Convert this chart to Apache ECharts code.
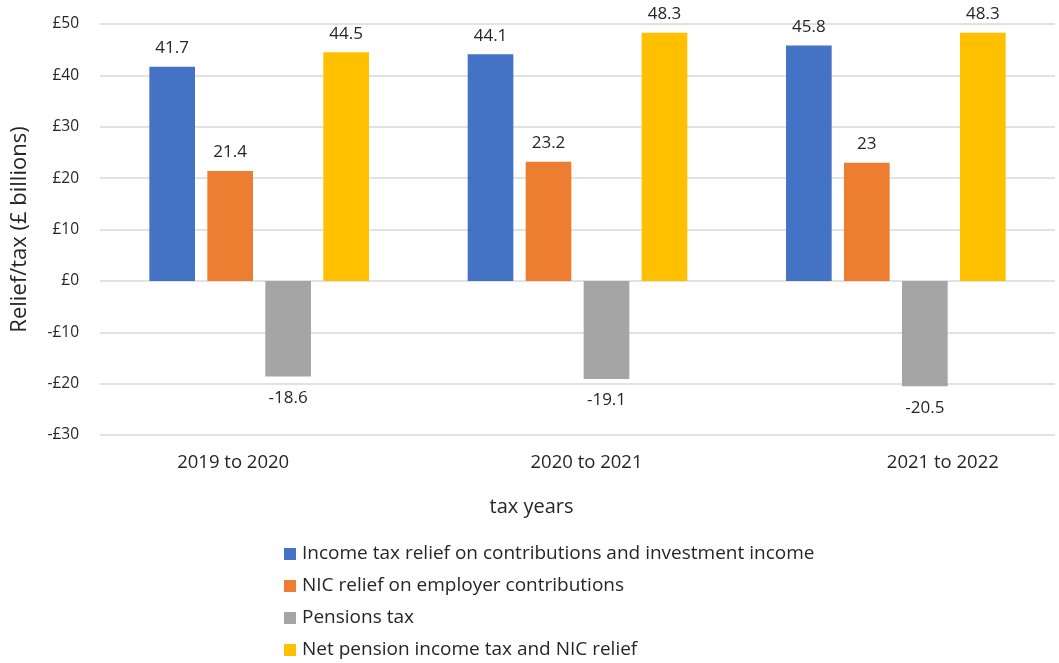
<!DOCTYPE html>
<html><head><meta charset="utf-8">
<script src="https://cdn.jsdelivr.net/npm/echarts@6/dist/echarts.min.js"></script>
<style>html,body{margin:0;padding:0;background:#fff}#c{width:1059px;height:663px}</style>
</head><body><div id="c"></div>
<script>
const categories = ['2019 to 2020', '2020 to 2021', '2021 to 2022'];
const incomeTaxRelief = [41.7, 44.1, 45.8];
const nicRelief = [21.4, 23.2, 23];
const pensionsTax = [-18.6, -19.1, -20.5];
const netRelief = [44.5, 48.3, 48.3];
const seriesNames = ['Income tax relief on contributions and investment income', 'NIC relief on employer contributions', 'Pensions tax', 'Net pension income tax and NIC relief'];
const colors = ['#4472C4', '#ED7D31', '#A5A5A5', '#FFC000'];

const font = 'Open Sans';
const txt = '#262626';
const chart = echarts.init(document.getElementById('c'));
function mk(name, data, color, pos, dist) {
  return {
    name, type: 'bar', data, barGap: '27%', barCategoryGap: '31%',
    itemStyle: { color },
    label: { show: true, position: pos, distance: dist, color: txt, fontFamily: font, fontSize: 17 }
  };
}
const catFont = 18.5;
chart.setOption({
  animation: false,
  color: colors,
  grid: { left: 100, right: 4, top: 24, bottom: 228 },
  xAxis: {
    type: 'category', data: categories,
    name: 'tax years', nameLocation: 'middle', nameGap: 62,
    nameTextStyle: { color: txt, fontFamily: font, fontSize: 20, padding: [0, 92, 0, 0] },
    axisLine: { show: false }, axisTick: { show: false },
    axisLabel: {
      color: txt, fontFamily: font, fontSize: catFont, margin: 18,
      formatter: (v, i) => '{l' + i + '|' + v + '}',
      rich: {
        l0: { color: txt, fontFamily: font, fontSize: catFont, padding: [0, 52, 0, 0] },
        l1: { color: txt, fontFamily: font, fontSize: catFont, padding: [0, 0, 0, 18] },
        l2: { color: txt, fontFamily: font, fontSize: catFont, padding: [0, 0, 0, 94] }
      }
    }
  },
  yAxis: {
    type: 'value', min: -30, max: 50, interval: 10,
    name: 'Relief/tax (£ billions)', nameLocation: 'middle', nameGap: 69,
    nameTextStyle: { color: txt, fontFamily: font, fontSize: 22 },
    axisLabel: {
      color: txt, fontFamily: font, fontSize: 15.5, margin: 21,
      formatter: v => (v < 0 ? '-£' + (-v) : '£' + v)
    },
    splitLine: { lineStyle: { color: '#D9D9D9', width: 1.5 } },
    axisLine: { show: false }, axisTick: { show: false }
  },
  legend: {
    orient: 'vertical', left: 284, top: 544, itemGap: 12, padding: 0,
    itemWidth: 12, itemHeight: 12, icon: 'rect',
    textStyle: { color: txt, fontFamily: font, fontSize: 19, lineHeight: 20, padding: [0, 0, 0, 1] },
    data: seriesNames
  },
  series: [
    mk(seriesNames[0], incomeTaxRelief, colors[0], 'top', 10),
    mk(seriesNames[1], nicRelief, colors[1], 'top', 10),
    mk(seriesNames[2], pensionsTax, colors[2], 'bottom', 13),
    mk(seriesNames[3], netRelief, colors[3], 'top', 10)
  ]
});
</script></body></html>
